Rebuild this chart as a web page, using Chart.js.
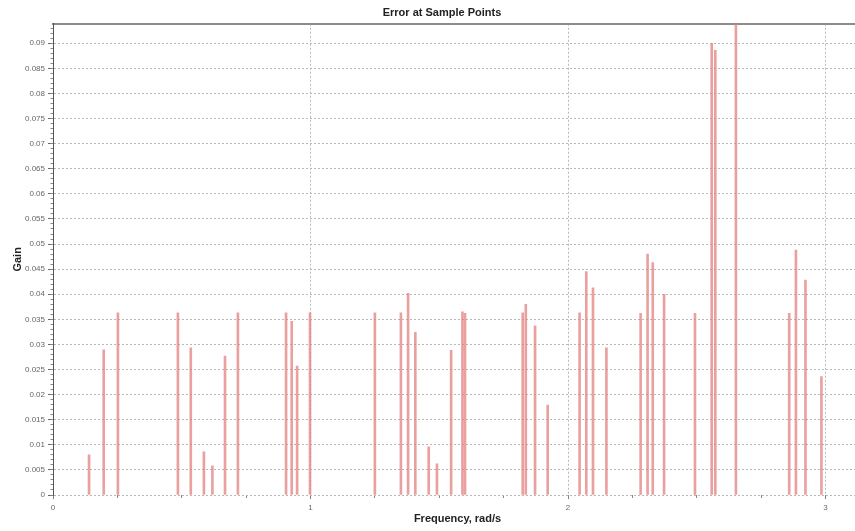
<!DOCTYPE html>
<html>
<head>
<meta charset="utf-8">
<script src="https://cdn.jsdelivr.net/npm/chart.js@4/dist/chart.umd.min.js"></script>
<style>
  html, body { margin: 0; padding: 0; background: #fff; overflow: hidden; }
  canvas { display: block; }
</style>
</head>
<body>
<canvas id="chart" width="884" height="531"></canvas>
<script>
// sample frequencies (rad/s) and error gain at each point
const freq = [
    0.140, 0.197, 0.252, 0.485, 0.535, 0.586, 0.619, 0.668, 0.718, 0.905,
    0.927, 0.948, 0.998, 1.250, 1.351, 1.379, 1.407, 1.459, 1.491, 1.546,
    1.590, 1.600, 1.824, 1.836, 1.872, 1.921, 2.045, 2.071, 2.097, 2.149,
    2.282, 2.309, 2.329, 2.373, 2.493, 2.558, 2.572, 2.652, 2.859, 2.885,
    2.922, 2.984,
];
const gain = [
    0.0080, 0.0289, 0.0363, 0.0363, 0.0293, 0.0086, 0.0058, 0.0277, 0.0363, 0.0363,
    0.0346, 0.0257, 0.0363, 0.0363, 0.0363, 0.0402, 0.0324, 0.0096, 0.0062, 0.0288,
    0.0365, 0.0362, 0.0363, 0.0380, 0.0337, 0.0179, 0.0363, 0.0445, 0.0413, 0.0293,
    0.0362, 0.0480, 0.0463, 0.0400, 0.0362, 0.0900, 0.0886, 0.0939, 0.0362, 0.0488,
    0.0428, 0.0236,
];

const X_MIN = 0;
const X_MAX = Math.PI;
const Y_MIN = 0;
const Y_MAX = Math.max(...gain);

const FONT = "'Liberation Sans', Arial, sans-serif";
const TICK_COLOR = "#666";
const GRID_COLOR = "#b8b8b8";

const points = freq.map((f, i) => ({ x: f, y: gain[i] }));

const fixWidth = (w) => (scale) => { scale.width = w; };
const fixHeight = (h) => (scale) => { scale.height = h; };

new Chart(document.getElementById("chart"), {
    type: "bar",
    data: {
        datasets: [
            {
                label: "Error",
                data: points,
                backgroundColor: "rgba(228, 128, 128, 0.75)",
                borderWidth: 0,
                barThickness: 2,
            },
        ],
    },
    options: {
        responsive: false,
        animation: false,
        layout: { padding: 0 },
        plugins: {
            legend: { display: false },
            tooltip: { enabled: false },
            title: {
                display: true,
                text: "Error at Sample Points",
                color: "#222",
                font: { family: FONT, size: 11, weight: "bold" },
                padding: { top: 6, bottom: 4.5 },
            },
        },
        scales: {
            x: {
                type: "linear",
                position: "bottom",
                weight: 1,
                min: X_MIN,
                max: X_MAX,
                offset: false,
                afterFit: fixHeight(36),
                grid: {
                    offset: false,
                    color: GRID_COLOR,
                    lineWidth: 1,
                    tickLength: 4,
                    tickColor: "#777",
                },
                border: { display: false, dash: [2, 2] },
                ticks: {
                    stepSize: 1,
                    includeBounds: false,
                    color: TICK_COLOR,
                    padding: 4,
                    maxRotation: 0,
                    font: { family: FONT, size: 8 },
                    callback: (v) => String(v),
                },
                title: {
                    display: true,
                    text: "Frequency, rad/s",
                    color: "#222",
                    font: { family: FONT, size: 11, weight: "bold" },
                    padding: { top: 0, bottom: 5 },
                },
            },
            xMinor: {
                type: "linear",
                position: "bottom",
                weight: 0,
                min: X_MIN,
                max: X_MAX,
                offset: false,
                afterFit: fixHeight(0),
                grid: { drawOnChartArea: false, tickLength: 3, tickColor: "#888", offset: false },
                border: { display: false },
                ticks: { stepSize: 0.25, includeBounds: false, display: false },
            },
            xTop: {
                type: "linear",
                position: "top",
                min: X_MIN,
                max: X_MAX,
                afterFit: fixHeight(0),
                grid: { display: false },
                border: { display: true, color: "#8c8c8c", width: 2 },
                ticks: { display: false },
            },
            y: {
                type: "linear",
                position: "left",
                weight: 1,
                min: Y_MIN,
                max: Y_MAX,
                afterFit: fixWidth(53),
                grid: {
                    color: GRID_COLOR,
                    lineWidth: 1,
                    tickLength: 5,
                    tickColor: "#666",
                },
                border: { display: true, color: "#555", width: 1, dash: [2, 2] },
                ticks: {
                    stepSize: 0.005,
                    includeBounds: false,
                    color: TICK_COLOR,
                    padding: 3,
                    font: { family: FONT, size: 8 },
                    callback: (v) => String(Number(v.toFixed(3))),
                },
                title: {
                    display: true,
                    text: "Gain",
                    color: "#222",
                    font: { family: FONT, size: 11, weight: "bold" },
                    padding: { top: 11, bottom: 0 },
                },
            },
            yMinor: {
                type: "linear",
                position: "left",
                weight: 0,
                min: Y_MIN,
                max: Y_MAX,
                afterFit: fixWidth(0),
                grid: { drawOnChartArea: false, tickLength: 2.5, tickColor: "#888" },
                border: { display: false },
                ticks: { stepSize: 0.001, includeBounds: false, display: false },
            },
            yRight: {
                type: "linear",
                position: "right",
                min: Y_MIN,
                max: Y_MAX,
                afterFit: fixWidth(22),
                grid: { display: false },
                border: { display: false },
                ticks: { display: false },
            },
        },
    },
});
</script>
</body>
</html>
